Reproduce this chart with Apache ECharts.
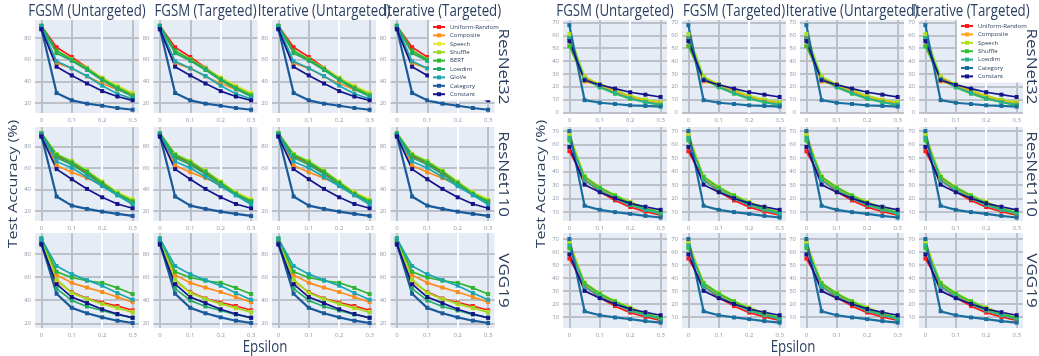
<!DOCTYPE html>
<html><head><meta charset="utf-8">
<script src="https://cdn.jsdelivr.net/npm/echarts@6/dist/echarts.min.js"></script>
<style>html,body{margin:0;padding:0;background:#fff}#c{width:1039px;height:356px}</style>
</head><body><div id="c"></div>
<script>
// ---------- data ----------
const epsilons = [0, 0.05, 0.1, 0.15, 0.2, 0.25, 0.3];
const xTickValues = [0, 0.1, 0.2, 0.3];
const leftYTicks = [20, 40, 60, 80];
const rightYTicks = [0, 10, 20, 30, 40, 50, 60, 70];
const columnTitles = ['FGSM (Untargeted)', 'FGSM (Targeted)', 'Iterative (Untargeted)', 'Iterative (Targeted)'];
const rowNames = ['ResNet32', 'ResNet110', 'VGG19'];
const leftMethods = ['Uniform-Random', 'Composite', 'Speech', 'Shuffle', 'BERT', 'Lowdim', 'GloVe', 'Category', 'Constant'];
const rightMethods = ['Uniform-Random', 'Composite', 'Speech', 'Shuffle', 'Lowdim', 'Category', 'Constant'];

// left figure, one row per model, series in leftMethods order
const leftResNet32 = [
  [91, 71.5, 62.5, 52.5, 43, 35, 28.5],
  [90, 57, 52, 44.5, 38, 32.5, 27],
  [91, 67, 60, 52, 43.5, 36, 29.5],
  [91, 67.5, 60.5, 52, 43, 35, 28.5],
  [91.5, 68.5, 60, 51.5, 42, 34, 27],
  [91, 66, 59, 50.5, 41, 33, 26],
  [90, 58.5, 52, 45, 36, 28.5, 24],
  [88.5, 29.2, 22.5, 19.4, 17.5, 15.4, 13.8],
  [88, 53.5, 45.5, 38, 31, 26, 22.5]
];
const leftResNet110 = [
  [91.5, 71, 64.5, 55, 44, 35, 29],
  [90.5, 62.3, 56, 50.5, 44.5, 36.5, 29.5],
  [92.5, 72.5, 66, 57.5, 47.5, 37.5, 31],
  [92.5, 73, 66.5, 57.5, 47, 37, 30],
  [92, 72, 65, 56.5, 46, 36, 29],
  [92, 69.5, 63, 54, 44.5, 35, 28],
  [91, 66, 60, 51.5, 43, 34.5, 26],
  [90, 33.4, 25, 21.9, 19.4, 17.3, 15.4],
  [89, 58.9, 49.5, 40.5, 32.7, 26.5, 22.5]
];
const leftVGG19 = [
  [91, 56, 47, 41.5, 38, 35, 31.3],
  [92, 61.7, 55, 50.9, 47.1, 42.7, 38.3],
  [92, 57, 46, 41, 36.5, 33, 30],
  [92.5, 58, 46.5, 41, 37, 33.5, 29.5],
  [93.5, 64.6, 59.6, 56.8, 55, 50.6, 45.3],
  [90, 50, 39.8, 34.6, 31.1, 27.6, 25],
  [93, 69.5, 62.5, 57.3, 52.5, 46.2, 40.4],
  [89, 45.6, 33.4, 28.7, 25.2, 22.3, 20.3],
  [88, 53.8, 42.7, 37.5, 32.2, 28.1, 24.8]
];
// right figure, series in rightMethods order
const rightResNet32 = [
  [58, 27, 21.5, 16.5, 12, 9.5, 7.5],
  [52, 24, 21, 16, 12, 9, 7],
  [61, 28, 22, 17.5, 13, 10, 8],
  [51.5, 26, 19.5, 14.5, 10.5, 8, 5.5],
  [58, 26, 20, 15, 11, 8, 6],
  [68, 9.5, 7.5, 6.5, 5.5, 5, 4.5],
  [55.5, 25, 21.5, 18.5, 15.7, 13.8, 12]
];
const rightResNet110 = [
  [55, 34, 25, 18.5, 13.5, 10.2, 7.5],
  [68, 35, 27, 21, 16, 12, 9],
  [67, 36.5, 28.5, 22.5, 17.5, 13, 9.5],
  [63, 36, 28, 22, 16.5, 12.5, 9.5],
  [65, 33.5, 26, 20, 15, 11.5, 8.5],
  [70, 14.5, 11.5, 9.8, 8.5, 7, 5.8],
  [58.2, 30.2, 24.6, 20.1, 16.3, 13.8, 11.5]
];
const rightVGG19 = [
  [55, 34, 25, 18.5, 13.5, 10.2, 7.5],
  [68, 35, 27, 21, 16, 12, 9],
  [67, 36.5, 28.5, 22.5, 17.5, 13, 9.5],
  [63, 36, 28, 22, 16.5, 12.5, 9.5],
  [65, 33.5, 26, 20, 15, 11.5, 8.5],
  [70, 14.5, 11.5, 9.8, 8.5, 7, 5.8],
  [58.2, 30.2, 24.6, 20.1, 16.3, 13.8, 11.5]
];

// ---------- styles / layout ----------
const leftColors = ['#ff1a1a', '#ff8c1a', '#e6e635', '#9ad82a', '#2db52d', '#22aa66', '#1aa6b0', '#1a5a9a', '#14148a'];
const rightColors = ['#ff1a1a', '#ffa31a', '#b0e01d', '#33c233', '#26b38c', '#1a6e9e', '#14148a'];
const leftYRanges = [[10.8, 96.6], [10.7, 98], [16, 98]];
const rightYRanges = [[-0.5, 72], [3.2, 73], [1.7, 74.6]];
const leftCols = [35, 153.5, 272, 390.5];
const rightCols = [563, 682, 800, 919];
const plotW = 104;
const rowTops = [20, 127, 233];
const rowHeights = [93, 94, 95];
const FONT = 'Open Sans';
const TXT = '#2a3f5f';
const GRID_GREY = '#bcc1c9';

const grids = [], xAxes = [], yAxes = [], series = [];

function addPanel(cols, methods, colors, rowsData, yRanges, yTicks) {
  rowsData.forEach((rowData, r) => {
    cols.forEach((cx, c) => {
      const gi = grids.length;
      grids.push({left: cx, top: rowTops[r], width: plotW, height: rowHeights[r],
        show: true, backgroundColor: '#e5ecf6', borderWidth: 0});
      xAxes.push({gridIndex: gi, type: 'value', min: -0.021, max: 0.321,
        axisLine: {show: false}, axisTick: {show: false, customValues: xTickValues},
        axisLabel: {customValues: xTickValues, fontSize: 6, color: '#8d96a6', margin: 4, fontFamily: FONT,
          formatter: v => String(Math.round(v * 10) / 10)},
        splitLine: {show: true, lineStyle: {color: [GRID_GREY, GRID_GREY, '#ffffff', GRID_GREY], width: 2}}});
      yAxes.push({gridIndex: gi, type: 'value', min: yRanges[r][0], max: yRanges[r][1],
        axisLine: {show: false}, axisTick: {show: false, customValues: yTicks},
        axisLabel: {customValues: yTicks, fontSize: 6, color: '#8d96a6', margin: 4, fontFamily: FONT},
        splitLine: {show: true, lineStyle: {color: GRID_GREY, width: 2}}});
      rowData.forEach((vals, s) => {
        series.push({type: 'line', name: methods[s], xAxisIndex: gi, yAxisIndex: gi,
          data: epsilons.map((e, i) => [e, vals[i]]),
          symbol: 'rect', symbolSize: 4, showSymbol: true,
          lineStyle: {width: methods[s] === 'Category' ? 2.2 : 1.7, color: colors[s]},
          itemStyle: {color: colors[s]}, animation: false, silent: true});
      });
    });
  });
}
addPanel(leftCols, leftMethods, leftColors, [leftResNet32, leftResNet110, leftVGG19], leftYRanges, leftYTicks);
addPanel(rightCols, rightMethods, rightColors, [rightResNet32, rightResNet110, rightVGG19], rightYRanges, rightYTicks);

const graphics = [];
function addText(x, y, text, size, rot) {
  const el = {type: 'text', x: x, y: y, rotation: rot || 0, z: 100,
    style: {text: text, fontSize: size, fontFamily: FONT, fill: TXT, align: 'center', verticalAlign: 'middle'}};
  if (rot) { el.scaleY = 0.83; } else { el.scaleX = 0.83; }
  graphics.push(el);
}
[leftCols, rightCols].forEach(cols => {
  cols.forEach((cx, c) => addText(cx + plotW / 2, 11, columnTitles[c], 16));
});
rowNames.forEach((n, r) => {
  const cy = rowTops[r] + rowHeights[r] / 2;
  addText(503, cy, n, 17, -Math.PI / 2);
  addText(1031, cy, n, 17, -Math.PI / 2);
});
addText(13, 184, 'Test Accuracy (%)', 16, Math.PI / 2);
addText(541, 184, 'Test Accuracy (%)', 16, Math.PI / 2);
addText(265, 347, 'Epsilon', 16);
addText(793, 347, 'Epsilon', 16);

function legendFor(methods, colors, left, top, gap) {
  return {orient: 'vertical', left: left, top: top, itemWidth: 12, itemHeight: 5, itemGap: gap,
    padding: [3, 3, 3, 3], backgroundColor: '#ffffff', selectedMode: false, z: 50,
    textStyle: {fontSize: 6, color: TXT, fontFamily: FONT},
    data: methods.map((n, i) => ({name: n, itemStyle: {color: colors[i]}, lineStyle: {color: colors[i]}}))};
}

const chart = echarts.init(document.getElementById('c'), null, {renderer: 'canvas'});
chart.setOption({
  animation: false,
  backgroundColor: '#ffffff',
  grid: grids, xAxis: xAxes, yAxis: yAxes, series: series,
  legend: [legendFor(leftMethods, leftColors, 429, 21, 2.4), legendFor(rightMethods, rightColors, 957, 20, 2.4)],
  graphic: graphics
});
</script></body></html>
